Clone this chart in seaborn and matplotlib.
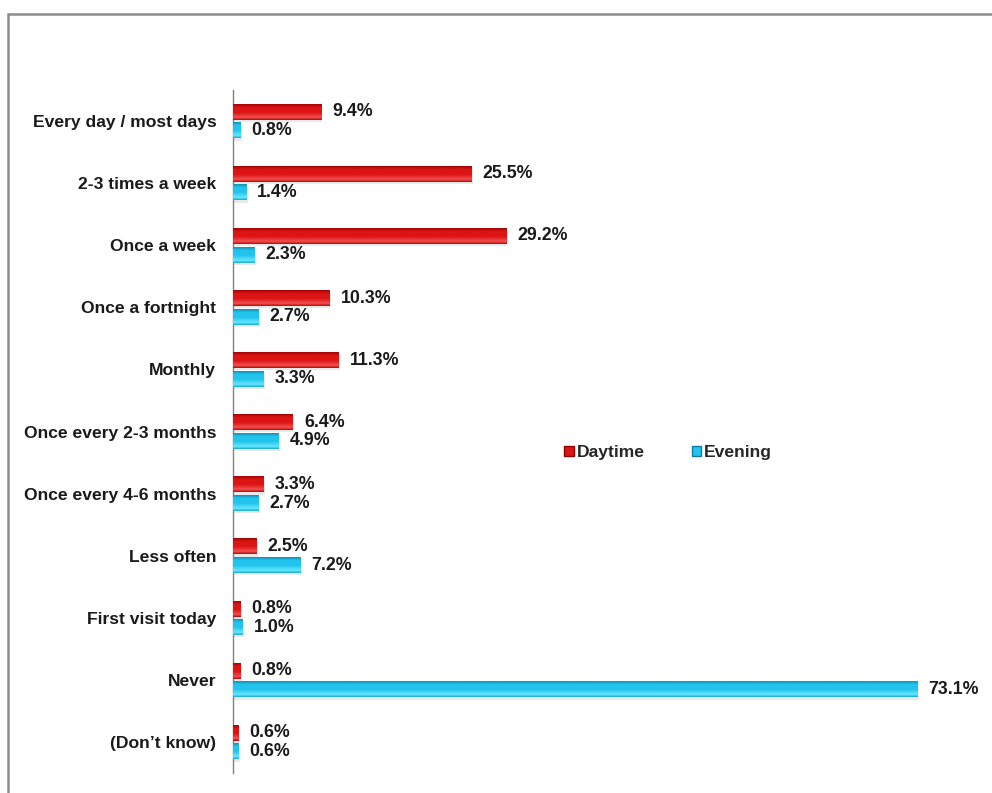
import numpy as np
import pandas as pd
import matplotlib
matplotlib.use("Agg")
import matplotlib.pyplot as plt
from matplotlib.patches import Rectangle, Patch
from matplotlib.colors import LinearSegmentedColormap
import seaborn as sns

categories = [
    "Every day / most days", "2-3 times a week", "Once a week", "Once a fortnight",
    "Monthly", "Once every 2-3 months", "Once every 4-6 months", "Less often",
    "First visit today", "Never", "(Don\u2019t know)",
]
daytime = [9.4, 25.5, 29.2, 10.3, 11.3, 6.4, 3.3, 2.5, 0.8, 0.8, 0.6]
evening = [0.8, 1.4, 2.3, 2.7, 3.3, 4.9, 2.7, 7.2, 1.0, 73.1, 0.6]
series = ["Daytime", "Evening"]

df = pd.DataFrame({
    "freq": categories * 2,
    "pct": daytime + evening,
    "period": [series[0]] * len(categories) + [series[1]] * len(categories),
})

sns.set_theme(style="white")
plt.rcParams["font.family"] = ["Liberation Sans", "DejaVu Sans"]

red_main, red_dark, red_light = "#DC1414", "#8E0000", "#F25050"
cyan_main, cyan_dark, cyan_light = "#22C4EE", "#127EA6", "#66E8FF"
palette = {series[0]: red_main, series[1]: cyan_main}

fig = plt.figure(figsize=(9.92, 7.93), dpi=100)
ax = fig.add_axes([0.2349, 0.025, 0.755, 0.8615])

sns.barplot(data=df, x="pct", y="freq", hue="period", orient="h",
            palette=palette, width=0.6, gap=0.14, ax=ax, legend=False,
            edgecolor="none", saturation=1)

ax.set_xlim(0, 80)
ax.set_ylim(10.5, -0.5)

# bevel-style shading with a soft drop shadow for each bar
shades = {
    0: LinearSegmentedColormap.from_list(
        "r", [(0, "#B80808"), (0.15, red_light), (0.45, red_main), (0.75, red_main), (1, red_dark)]),
    1: LinearSegmentedColormap.from_list(
        "c", [(0, "#1AA8D8"), (0.15, cyan_light), (0.45, cyan_main), (0.75, cyan_main), (1, cyan_dark)]),
}
grad = np.linspace(0, 1, 64).reshape(-1, 1)
for ci, cont in enumerate(ax.containers):
    for p in cont.patches:
        x0, y0 = p.get_x(), p.get_y()
        w, h = p.get_width(), p.get_height()
        ax.add_patch(Rectangle((x0 + 0.15, y0 + 0.035), w, h, facecolor="#d4d4d4",
                               edgecolor="none", alpha=0.5, zorder=1))
        im = ax.imshow(grad, cmap=shades[ci], aspect="auto",
                       extent=(x0, x0 + w, y0, y0 + h), origin="upper", zorder=3)
        im.set_clip_path(p)
    ax.bar_label(cont, fmt="%.1f%%", padding=8, fontsize=12.8,
                 fontweight="bold", color="#1a1a1a", zorder=5)

ax.set_xlim(0, 80)
ax.set_ylim(10.5, -0.5)
ax.set_xlabel("")
ax.set_ylabel("")
ax.set_xticks([])
ax.tick_params(axis="y", length=0, pad=12)
for lab in ax.get_yticklabels():
    lab.set_fontweight("bold")
    lab.set_fontsize(12.6)
    lab.set_color("#1a1a1a")
for s in ["top", "right", "bottom"]:
    ax.spines[s].set_visible(False)
ax.spines["left"].set_color("#808080")
ax.spines["left"].set_linewidth(1)

handles = [Patch(facecolor=red_main, edgecolor=red_dark, label=series[0]),
           Patch(facecolor=cyan_main, edgecolor=cyan_dark, label=series[1])]
fig.legend(handles=handles, loc="center left", bbox_to_anchor=(0.553, 0.429),
           ncol=2, frameon=False, handlelength=0.55, handleheight=0.55,
           handletextpad=0.15, columnspacing=2.7,
           prop={"weight": "bold", "size": 12.6})

# outer frame
fig.add_artist(Rectangle((8 / 992, -0.1), 1.2, 1 - 14 / 793 + 0.1,
                         transform=fig.transFigure, fill=False,
                         edgecolor="#8c8c8c", linewidth=1.8))

fig.savefig("out.png", dpi=100, facecolor="white")
